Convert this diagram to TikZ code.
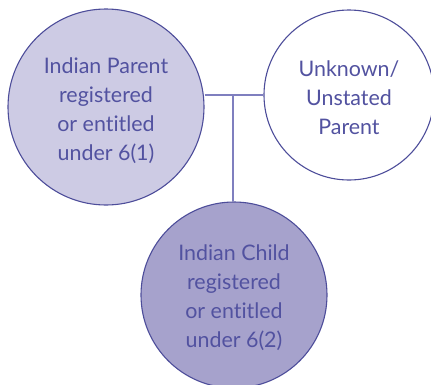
\documentclass[tikz,border=0pt]{standalone}
\usepackage{fontspec}
\setmainfont{Lato}[Ligatures={NoCommon}]
\definecolor{strokec}{HTML}{4D4D9A}
\definecolor{linec}{HTML}{7F7FBF}
\definecolor{textc}{HTML}{5252A0}
\definecolor{fillA}{HTML}{CDCBE4}
\definecolor{fillB}{HTML}{A6A2CC}
\tikzset{
  person/.style={circle, draw=strokec, line width=1.1bp, inner sep=0pt},
  label text/.style={align=center, inner sep=0pt, text=textc, font=\fontsize{21.5}{29}\selectfont},
  link/.style={draw=linec, line width=1.3bp}
}
\begin{document}
\begin{tikzpicture}[x=1bp,y=-1bp]
\useasboundingbox (0,0) rectangle (431,385);
\node[person, fill=fillA, minimum size=196bp] (p1) at (106,107) {};
\node[person, fill=white, minimum size=170bp] (p2) at (349,95) {};
\node[person, fill=fillB, minimum size=186bp] (c) at (234,295) {};
\node[label text] (p1t) at (106,111) {Indian Parent\\registered\\or entitled\\under 6(1)};
\node[label text] (p2t) at (349,98) {Unknown/\\Unstated\\Parent};
\node[label text] (ct) at (234,298) {Indian Child\\registered\\or entitled\\under 6(2)};
\coordinate (j) at (233,95);
\draw[link] (p1.east |- j) -- (p2.west |- j);
\draw[link] (j) -- (c.north -| j);
\end{tikzpicture}
\end{document}
